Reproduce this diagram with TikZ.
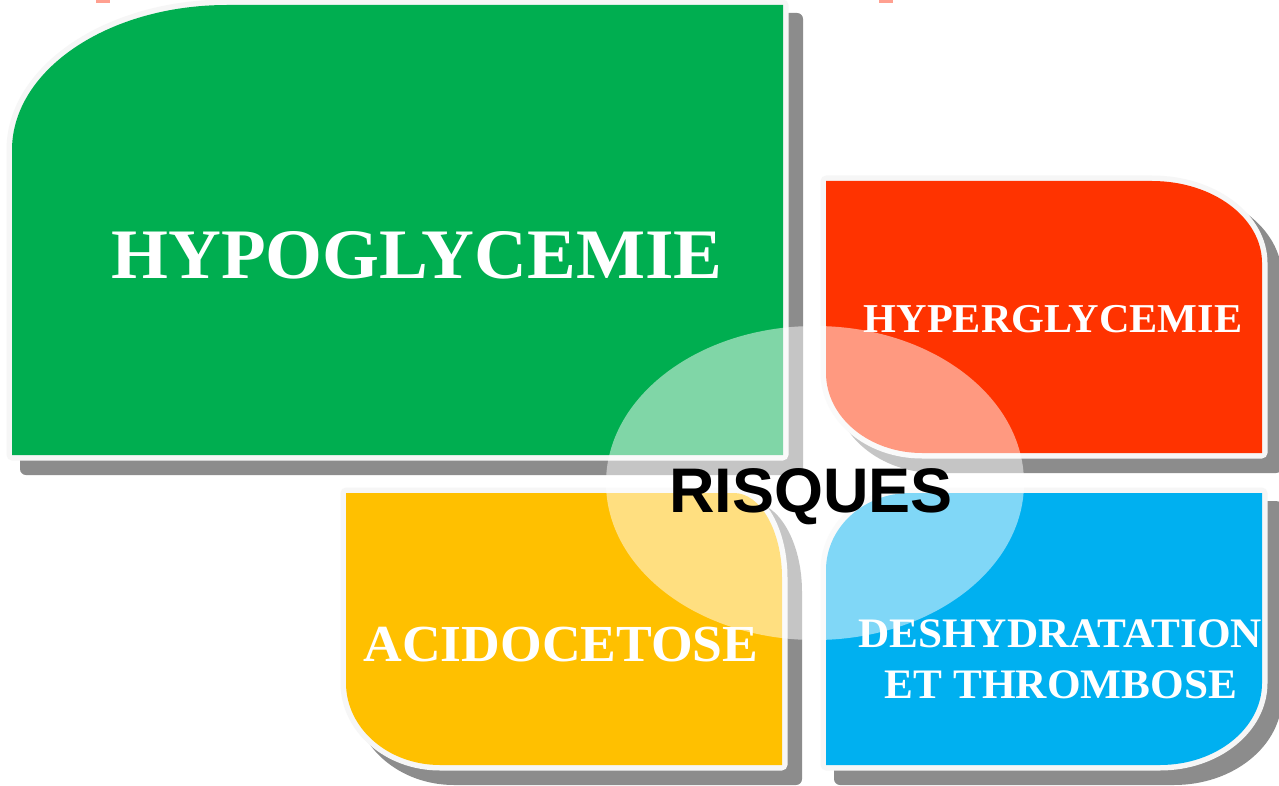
\documentclass[tikz,border=0pt]{standalone}
\usepackage{fontspec}
\setmainfont{Liberation Serif}
\newfontfamily\boxfont[FakeStretch=1.03]{Liberation Serif}
\newfontfamily\risqfont{Liberation Sans}
\definecolor{cgreen}{RGB}{0,174,80}
\definecolor{cred}{RGB}{255,51,0}
\definecolor{cyellow}{RGB}{255,192,0}
\definecolor{cblue}{RGB}{0,176,240}
\definecolor{cshadow}{RGB}{140,140,140}
\definecolor{cborder}{RGB}{246,246,246}
\definecolor{cpink}{RGB}{255,160,144}
\newcommand\GreenShape[1]{\path[#1] (12,-455) -- (783,-455) -- (783,-5) -- (227,-5) arc[start angle=90,end angle=180,x radius=215,y radius=145] -- cycle;}
\newcommand\RedShape[1]{\path[#1] (826,-181) -- (1152,-181) arc[start angle=90,end angle=0,x radius=110,y radius=82] -- (1262,-453) -- (922,-453) arc[start angle=270,end angle=180,x radius=96,y radius=80] -- cycle;}
\newcommand\YellowShape[1]{\path[#1] (346,-493) -- (734,-493) arc[start angle=90,end angle=0,x radius=48,y radius=85] -- (782,-765) -- (440,-765) arc[start angle=270,end angle=180,x radius=94,y radius=82] -- cycle;}
\newcommand\BlueShape[1]{\path[#1] (826,-765) -- (1160,-765) arc[start angle=270,end angle=360,x radius=102,y radius=82] -- (1262,-493) -- (910,-493) arc[start angle=90,end angle=180,x radius=84,y radius=77] -- cycle;}
\tikzset{
  shadowsty/.style={fill=cshadow,draw=cshadow,line width=12pt,line join=round,shift={(14,-14)}},
  bordersty/.style={draw=cborder,line width=11pt,line join=round},
  boxtext/.style={text=white,anchor=base,inner sep=0pt},
}
\begin{document}
\begin{tikzpicture}[x=1pt,y=1pt]
\useasboundingbox (0,0) rectangle (1279,-786);
\fill[white] (0,0) rectangle (1279,-786);
\fill[cpink] (96,0) rectangle (110,-3);
\fill[cpink] (879,0) rectangle (893,-3);
% shadows
\GreenShape{shadowsty}
\RedShape{shadowsty}
\YellowShape{shadowsty}
\BlueShape{shadowsty}
% borders
\GreenShape{bordersty}
\RedShape{bordersty}
\YellowShape{bordersty}
\BlueShape{bordersty}
% fills
\GreenShape{fill=cgreen}
\RedShape{fill=cred}
\YellowShape{fill=cyellow}
\BlueShape{fill=cblue}
% texts
\node[boxtext,font=\boxfont\bfseries\fontsize{71}{71}\selectfont] (hypo) at (417,-279) {HYPOGLYCEMIE};
\node[boxtext,font=\boxfont\bfseries\fontsize{41}{41}\selectfont] (hyper) at (1053,-332) {HYPERGLYCEMIE};
\node[boxtext,font=\boxfont\bfseries\fontsize{52}{52}\selectfont] (acido) at (561,-661) {ACIDOCETOSE};
\node[boxtext,font=\boxfont\bfseries\fontsize{42}{42}\selectfont] (desh) at (1060,-647) {DESHYDRATATION};
\node[boxtext,font=\boxfont\bfseries\fontsize{42}{42}\selectfont] (thromb) at (1061,-698) {ET THROMBOSE};
% central ellipse
\fill[white,fill opacity=0.5] (815,-483) ellipse[x radius=209,y radius=157];
\node[anchor=base,inner sep=0pt,text=black,font=\risqfont\bfseries\fontsize{63}{63}\selectfont] (risques) at (811,-512) {RISQUES};
\end{tikzpicture}
\end{document}
